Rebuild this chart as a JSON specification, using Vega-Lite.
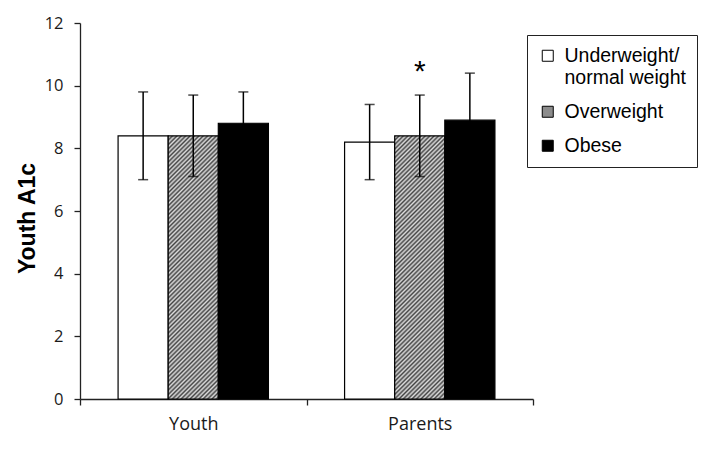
{
  "$schema": "https://vega.github.io/schema/vega-lite/v6.json",
  "autosize": "none",
  "width": 453,
  "height": 376,
  "padding": {"left": 80, "top": 23, "right": 191, "bottom": 51},
  "background": "white",
  "config": {
    "view": {"stroke": null},
    "axis": {"grid": false, "domainColor": "#222", "tickColor": "#222", "domainWidth": 1.3, "tickWidth": 1.3, "labelColor": "#1a1a1a", "labelFont": "Open Sans"}
  },
  "data": {
    "values": [
      {"group": "Youth", "weight": "Underweight/normal weight", "mean": 8.4, "low": 7.0, "high": 9.8, "sig": ""},
      {"group": "Youth", "weight": "Overweight", "mean": 8.4, "low": 7.1, "high": 9.7, "sig": ""},
      {"group": "Youth", "weight": "Obese", "mean": 8.8, "low": 7.8, "high": 9.8, "sig": ""},
      {"group": "Parents", "weight": "Underweight/normal weight", "mean": 8.2, "low": 7.0, "high": 9.4, "sig": ""},
      {"group": "Parents", "weight": "Overweight", "mean": 8.4, "low": 7.1, "high": 9.7, "sig": "*"},
      {"group": "Parents", "weight": "Obese", "mean": 8.9, "low": 7.4, "high": 10.4, "sig": ""}
    ]
  },
  "encoding": {
    "x": {
      "field": "group", "type": "nominal", "sort": ["Youth", "Parents"],
      "scale": {"paddingInner": 0, "paddingOuter": 0},
      "axis": {"title": null, "labelAngle": 0, "tickBand": "extent", "tickSize": 6, "labelFontSize": 18, "labelPadding": 10}
    },
    "xOffset": {
      "field": "weight", "type": "nominal",
      "sort": ["Underweight/normal weight", "Overweight", "Obese"],
      "scale": {"paddingInner": 0, "paddingOuter": 0.76}
    }
  },
  "layer": [
    {
      "mark": {"type": "bar", "stroke": "black", "strokeWidth": 1.2},
      "encoding": {
        "y": {
          "field": "mean", "type": "quantitative",
          "scale": {"domain": [0, 12], "nice": false},
          "axis": {"title": "Youth A1c", "values": [0, 2, 4, 6, 8, 10, 12], "tickSize": 6, "labelFontSize": 16.5, "labelPadding": 11,
            "titleFont": "Liberation Sans", "titleFontSize": 23, "titleFontWeight": "bold", "titleColor": "black",
            "titleX": -46, "titleY": 195, "titleBaseline": "alphabetic", "titleAlign": "center"}
        },
        "fill": {
          "condition": {
            "test": "datum.weight === 'Overweight'",
            "value": {"gradient": "linear", "x1": 0, "y1": 0, "x2": 0.2182, "y2": 1.1485, "stops": [
              {"offset":0,"color":"#444"},{"offset":0.007,"color":"#ddd"},{"offset":0.014,"color":"#444"},{"offset":0.021,"color":"#ddd"},{"offset":0.028,"color":"#444"},{"offset":0.035,"color":"#ddd"},{"offset":0.042,"color":"#444"},{"offset":0.049,"color":"#ddd"},{"offset":0.056,"color":"#444"},{"offset":0.063,"color":"#ddd"},
              {"offset":0.07,"color":"#444"},{"offset":0.077,"color":"#ddd"},{"offset":0.084,"color":"#444"},{"offset":0.091,"color":"#ddd"},{"offset":0.098,"color":"#444"},{"offset":0.105,"color":"#ddd"},{"offset":0.112,"color":"#444"},{"offset":0.119,"color":"#ddd"},{"offset":0.126,"color":"#444"},{"offset":0.133,"color":"#ddd"},
              {"offset":0.14,"color":"#444"},{"offset":0.147,"color":"#ddd"},{"offset":0.154,"color":"#444"},{"offset":0.161,"color":"#ddd"},{"offset":0.168,"color":"#444"},{"offset":0.175,"color":"#ddd"},{"offset":0.182,"color":"#444"},{"offset":0.189,"color":"#ddd"},{"offset":0.196,"color":"#444"},{"offset":0.203,"color":"#ddd"},
              {"offset":0.21,"color":"#444"},{"offset":0.217,"color":"#ddd"},{"offset":0.224,"color":"#444"},{"offset":0.231,"color":"#ddd"},{"offset":0.238,"color":"#444"},{"offset":0.245,"color":"#ddd"},{"offset":0.252,"color":"#444"},{"offset":0.259,"color":"#ddd"},{"offset":0.266,"color":"#444"},{"offset":0.273,"color":"#ddd"},
              {"offset":0.28,"color":"#444"},{"offset":0.287,"color":"#ddd"},{"offset":0.294,"color":"#444"},{"offset":0.301,"color":"#ddd"},{"offset":0.308,"color":"#444"},{"offset":0.315,"color":"#ddd"},{"offset":0.322,"color":"#444"},{"offset":0.329,"color":"#ddd"},{"offset":0.336,"color":"#444"},{"offset":0.343,"color":"#ddd"},
              {"offset":0.35,"color":"#444"},{"offset":0.357,"color":"#ddd"},{"offset":0.364,"color":"#444"},{"offset":0.371,"color":"#ddd"},{"offset":0.378,"color":"#444"},{"offset":0.385,"color":"#ddd"},{"offset":0.392,"color":"#444"},{"offset":0.399,"color":"#ddd"},{"offset":0.406,"color":"#444"},{"offset":0.413,"color":"#ddd"},
              {"offset":0.42,"color":"#444"},{"offset":0.427,"color":"#ddd"},{"offset":0.434,"color":"#444"},{"offset":0.441,"color":"#ddd"},{"offset":0.448,"color":"#444"},{"offset":0.455,"color":"#ddd"},{"offset":0.462,"color":"#444"},{"offset":0.469,"color":"#ddd"},{"offset":0.476,"color":"#444"},{"offset":0.483,"color":"#ddd"},
              {"offset":0.49,"color":"#444"},{"offset":0.497,"color":"#ddd"},{"offset":0.504,"color":"#444"},{"offset":0.511,"color":"#ddd"},{"offset":0.518,"color":"#444"},{"offset":0.525,"color":"#ddd"},{"offset":0.532,"color":"#444"},{"offset":0.539,"color":"#ddd"},{"offset":0.546,"color":"#444"},{"offset":0.553,"color":"#ddd"},
              {"offset":0.56,"color":"#444"},{"offset":0.567,"color":"#ddd"},{"offset":0.574,"color":"#444"},{"offset":0.581,"color":"#ddd"},{"offset":0.588,"color":"#444"},{"offset":0.595,"color":"#ddd"},{"offset":0.602,"color":"#444"},{"offset":0.609,"color":"#ddd"},{"offset":0.616,"color":"#444"},{"offset":0.623,"color":"#ddd"},
              {"offset":0.63,"color":"#444"},{"offset":0.637,"color":"#ddd"},{"offset":0.644,"color":"#444"},{"offset":0.651,"color":"#ddd"},{"offset":0.658,"color":"#444"},{"offset":0.665,"color":"#ddd"},{"offset":0.672,"color":"#444"},{"offset":0.679,"color":"#ddd"},{"offset":0.686,"color":"#444"},{"offset":0.693,"color":"#ddd"},
              {"offset":0.7,"color":"#444"},{"offset":0.707,"color":"#ddd"},{"offset":0.714,"color":"#444"},{"offset":0.721,"color":"#ddd"},{"offset":0.728,"color":"#444"},{"offset":0.735,"color":"#ddd"},{"offset":0.742,"color":"#444"},{"offset":0.749,"color":"#ddd"},{"offset":0.756,"color":"#444"},{"offset":0.763,"color":"#ddd"},
              {"offset":0.77,"color":"#444"},{"offset":0.777,"color":"#ddd"},{"offset":0.784,"color":"#444"},{"offset":0.791,"color":"#ddd"},{"offset":0.798,"color":"#444"},{"offset":0.805,"color":"#ddd"},{"offset":0.812,"color":"#444"},{"offset":0.819,"color":"#ddd"},{"offset":0.826,"color":"#444"},{"offset":0.833,"color":"#ddd"},
              {"offset":0.84,"color":"#444"},{"offset":0.847,"color":"#ddd"},{"offset":0.854,"color":"#444"},{"offset":0.861,"color":"#ddd"},{"offset":0.868,"color":"#444"},{"offset":0.875,"color":"#ddd"},{"offset":0.882,"color":"#444"},{"offset":0.889,"color":"#ddd"},{"offset":0.896,"color":"#444"},{"offset":0.903,"color":"#ddd"},
              {"offset":0.91,"color":"#444"},{"offset":0.917,"color":"#ddd"},{"offset":0.924,"color":"#444"},{"offset":0.931,"color":"#ddd"},{"offset":0.938,"color":"#444"},{"offset":0.945,"color":"#ddd"},{"offset":0.952,"color":"#444"},{"offset":0.959,"color":"#ddd"},{"offset":0.966,"color":"#444"},{"offset":0.973,"color":"#ddd"},
              {"offset":0.98,"color":"#444"},{"offset":0.987,"color":"#ddd"},{"offset":0.994,"color":"#444"},{"offset":1,"color":"#ddd"}
            ]}
          },
          "field": "weight", "type": "nominal",
          "sort": ["Underweight/normal weight", "Overweight", "Obese"],
          "scale": {"domain": ["Underweight/normal weight", "Overweight", "Obese"], "range": ["white", "#8c8c8c", "black"]},
          "legend": {
            "title": null, "orient": "none", "legendX": 447, "legendY": 12,
            "symbolType": "square", "symbolSize": 121, "symbolStrokeColor": "black", "symbolStrokeWidth": 1,
            "labelFont": "Liberation Sans", "labelFontSize": 19.5, "labelColor": "black", "labelOffset": 7, "labelLimit": 300,
            "rowPadding": 13, "padding": 11, "strokeColor": "#222", "fillColor": "white",
            "labelExpr": "datum.label === 'Underweight/normal weight' ? ['Underweight/', 'normal weight'] : datum.label",
            "encode": {
              "labels": {"update": {"lineHeight": {"value": 22}}},
              "symbols": {"update": {
                "stroke": {"value": "black"},
                "strokeWidth": {"value": 1},
                "fill": {"signal": "(datum.value === 'Overweight' || datum.label === 'Overweight') ? {gradient: 'linear', x1: 0, y1: 0, x2: 1, y2: 1, stops: [{offset: 0, color: '#444'}, {offset: 0.1, color: '#ddd'}, {offset: 0.2, color: '#444'}, {offset: 0.3, color: '#ddd'}, {offset: 0.4, color: '#444'}, {offset: 0.5, color: '#ddd'}, {offset: 0.6, color: '#444'}, {offset: 0.7, color: '#ddd'}, {offset: 0.8, color: '#444'}, {offset: 0.9, color: '#ddd'}, {offset: 1, color: '#444'}]} : ((datum.value === 'Obese' || datum.label === 'Obese') ? 'black' : 'white')"}
              }}
            }
          }
        }
      }
    },
    {
      "mark": {"type": "rule", "color": "black", "strokeWidth": 1.5},
      "encoding": {
        "y": {"field": "low", "type": "quantitative"},
        "y2": {"field": "high"}
      }
    },
    {
      "mark": {"type": "tick", "color": "black", "size": 10, "thickness": 1.5},
      "encoding": {"y": {"field": "low", "type": "quantitative"}}
    },
    {
      "mark": {"type": "tick", "color": "black", "size": 10, "thickness": 1.5},
      "encoding": {"y": {"field": "high", "type": "quantitative"}}
    },
    {
      "mark": {"type": "text", "fontSize": 30, "font": "Liberation Sans", "color": "black", "baseline": "alphabetic", "dy": -14},
      "encoding": {
        "y": {"field": "high", "type": "quantitative"},
        "text": {"field": "sig"}
      }
    }
  ]
}
